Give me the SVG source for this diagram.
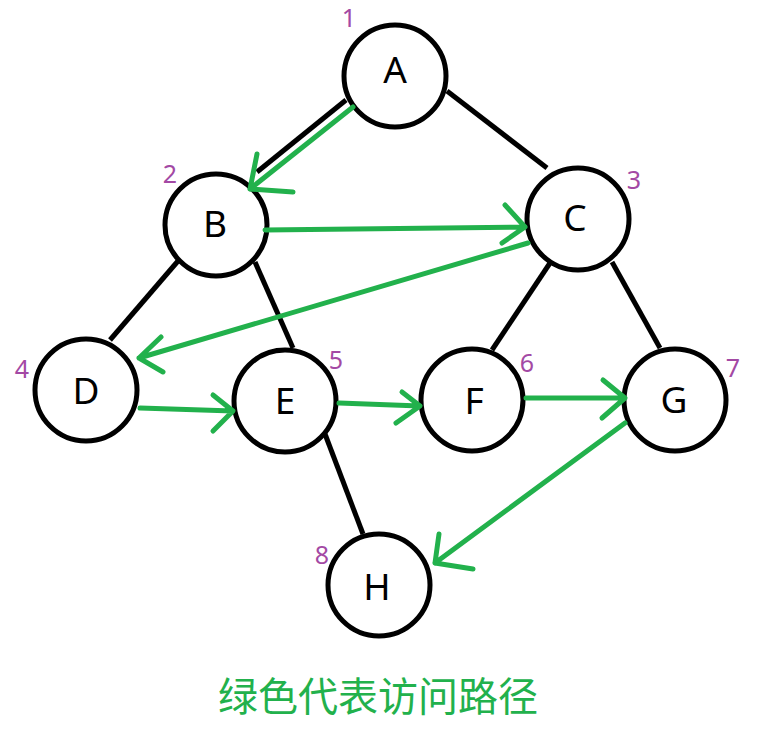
<svg xmlns="http://www.w3.org/2000/svg" width="764" height="739" viewBox="0 0 764 739">
<style>
.node{fill:#fff;stroke:#000;stroke-width:5}
.lbl{font-family:"Noto Sans","Open Sans","Liberation Sans",sans-serif;font-size:37px;fill:#000;text-anchor:middle}
.num{font-family:"Noto Sans","Open Sans","Liberation Sans",sans-serif;font-size:25px;fill:#a349a4;text-anchor:middle}
.edge{stroke:#000;stroke-width:5;fill:none;stroke-linecap:butt}
.path{stroke:#22b14c;stroke-width:5;fill:none;stroke-linecap:round;stroke-linejoin:round}
.title{font-family:"Noto Sans CJK SC","Noto Sans",sans-serif;font-size:40px;fill:#22b14c;text-anchor:middle}
</style>
<rect width="764" height="739" fill="#fff"/>
<g id="edges">
<line class="edge" x1="346" y1="100" x2="257" y2="172"/>
<line class="edge" x1="447" y1="91" x2="547" y2="168"/>
<line class="edge" x1="178" y1="261" x2="110" y2="340"/>
<line class="edge" x1="255" y1="262" x2="293" y2="348"/>
<line class="edge" x1="550" y1="263" x2="492" y2="350"/>
<line class="edge" x1="612" y1="262" x2="660" y2="348"/>
<line class="edge" x1="325" y1="434" x2="363" y2="534"/>
</g>
<g id="node-A"><circle class="node" cx="395" cy="76" r="51"/><text class="lbl" x="395" y="83">A</text><text class="num" x="349" y="27">1</text></g>
<g id="node-B"><circle class="node" cx="216" cy="225" r="51"/><text class="lbl" x="215" y="237">B</text><text class="num" x="170" y="183">2</text></g>
<g id="node-C"><circle class="node" cx="578" cy="219" r="51"/><text class="lbl" x="575" y="231">C</text><text class="num" x="634" y="189">3</text></g>
<g id="node-D"><circle class="node" cx="86" cy="390" r="51"/><text class="lbl" x="86" y="404">D</text><text class="num" x="22" y="378">4</text></g>
<g id="node-E"><circle class="node" cx="285" cy="401" r="51"/><text class="lbl" x="285" y="414">E</text><text class="num" x="336" y="369">5</text></g>
<g id="node-F"><circle class="node" cx="472" cy="400" r="51"/><text class="lbl" x="474" y="414">F</text><text class="num" x="527" y="372">6</text></g>
<g id="node-G"><circle class="node" cx="675" cy="400" r="51"/><text class="lbl" x="674" y="413">G</text><text class="num" x="733" y="377">7</text></g>
<g id="node-H"><circle class="node" cx="379" cy="585" r="51"/><text class="lbl" x="377" y="600">H</text><text class="num" x="322" y="564">8</text></g>
<g id="visit-path">
<path class="path" d="M353,107 L250,189 M257,154 L250,189 L293,192"/>
<path class="path" d="M265,230 L525,227 M505,205 L525,227 L502,243"/>
<path class="path" d="M528,243 L139,358 M161,337 L139,358 L163,372"/>
<path class="path" d="M140,408 L233,411 M213,395 L233,411 L213,431"/>
<path class="path" d="M339,403 L420,406 M402,392 L420,406 L396,423"/>
<path class="path" d="M526,398 L625,398 M603,380 L625,398 L602,418"/>
<path class="path" d="M625,423 L435,563 M439,534 L435,563 L473,569"/>
</g>
<text class="title" x="378" y="711">绿色代表访问路径</text>
</svg>
